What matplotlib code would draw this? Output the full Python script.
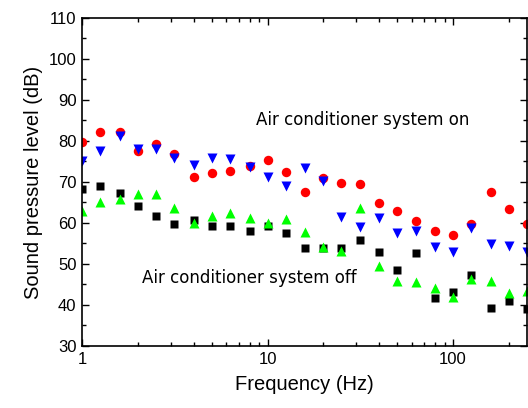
import numpy as np
import matplotlib
matplotlib.use("Agg")
import matplotlib.pyplot as plt
from matplotlib.ticker import LogLocator, FixedLocator, MultipleLocator, FixedFormatter

# 1/3 octave band centre frequencies (Hz)
freq = [1, 1.25, 1.6, 2, 2.5, 3.15, 4, 5, 6.3, 8, 10, 12.5, 16, 20, 25,
        31.5, 40, 50, 63, 80, 100, 125, 160, 200, 250]

# air conditioner on (two measurement points)
spl_on_a = [79.8, 82.2, 82.3, 77.6, 79.3, 76.8, 71.2, 72.1, 72.6, 74.0, 75.3,
            72.5, 67.6, 70.9, 69.8, 69.4, 64.8, 62.9, 60.4, 58.1, 57.0,
            59.8, 67.6, 63.3, 59.8]
spl_on_b = [75.1, 77.5, 81.2, 78.0, 78.0, 75.8, 74.1, 75.9, 75.7, 73.7, 71.3,
            69.1, 73.4, 70.3, 61.5, 58.9, 61.1, 57.6, 58.1, 54.1, 52.9,
            58.7, 54.9, 54.3, 53.0]

# air conditioner off (two measurement points)
spl_off_a = [68.2, 68.9, 67.4, 64.1, 61.7, 59.7, 60.7, 59.3, 59.3, 58.0, 59.3,
             57.5, 54.0, 54.0, 54.0, 55.8, 52.8, 48.5, 52.6, 41.7, 43.1,
             47.2, 39.3, 41.0, 39.0]
spl_off_b = [62.9, 65.2, 65.8, 67.1, 67.1, 63.6, 60.1, 61.7, 62.4, 61.3, 59.9,
             61.0, 57.7, 54.2, 53.2, 63.7, 49.6, 45.9, 45.7, 44.1, 42.0,
             46.3, 45.9, 42.9, 43.5]

fig = plt.figure(figsize=(5.28, 4.08), dpi=100)
ax = fig.add_axes([0.1553, 0.152, 0.8427, 0.804])

ax.plot(freq, spl_on_a, 'o', color='#ff0000', ms=6.8, mec='none', clip_on=True)
ax.plot(freq, spl_on_b, 'v', color='#0000ff', ms=7.5, mec='none')
ax.plot(freq, spl_off_a, 's', color='#000000', ms=6.0, mec='none')
ax.plot(freq, spl_off_b, '^', color='#00ff00', ms=7.5, mec='none')

ax.set_xscale('log')
ax.set_xlim(1, 250)
ax.set_ylim(30, 110)

ax.xaxis.set_major_locator(FixedLocator([1, 10, 100]))
ax.xaxis.set_major_formatter(FixedFormatter(['1', '10', '100']))
ax.xaxis.set_minor_locator(LogLocator(base=10, subs=np.arange(2, 10)))
ax.xaxis.set_minor_formatter(plt.NullFormatter())
ax.yaxis.set_major_locator(MultipleLocator(10))
ax.yaxis.set_minor_locator(MultipleLocator(5))

ax.tick_params(which='both', direction='in', top=True, right=True,
               width=1.0, labelsize=12, pad=4)
ax.tick_params(which='major', length=5)
ax.tick_params(which='minor', length=3)
for lbl in ax.get_xticklabels() + ax.get_yticklabels():
    lbl.set_fontfamily('Liberation Sans')
for sp in ax.spines.values():
    sp.set_linewidth(1.2)

ax.set_xlabel('Frequency (Hz)', fontsize=14.5, family='Liberation Sans', labelpad=6)
ax.set_ylabel('Sound pressure level (dB)', fontsize=14.5, family='Liberation Sans', labelpad=4)

ax.text(8.68, 85.0, 'Air conditioner system on', fontsize=12, va='center', ha='left',
        family='DejaVu Sans')
ax.text(2.1, 46.6, 'Air conditioner system off', fontsize=12, va='center', ha='left',
        family='DejaVu Sans')

fig.savefig('out.png', dpi=100)
